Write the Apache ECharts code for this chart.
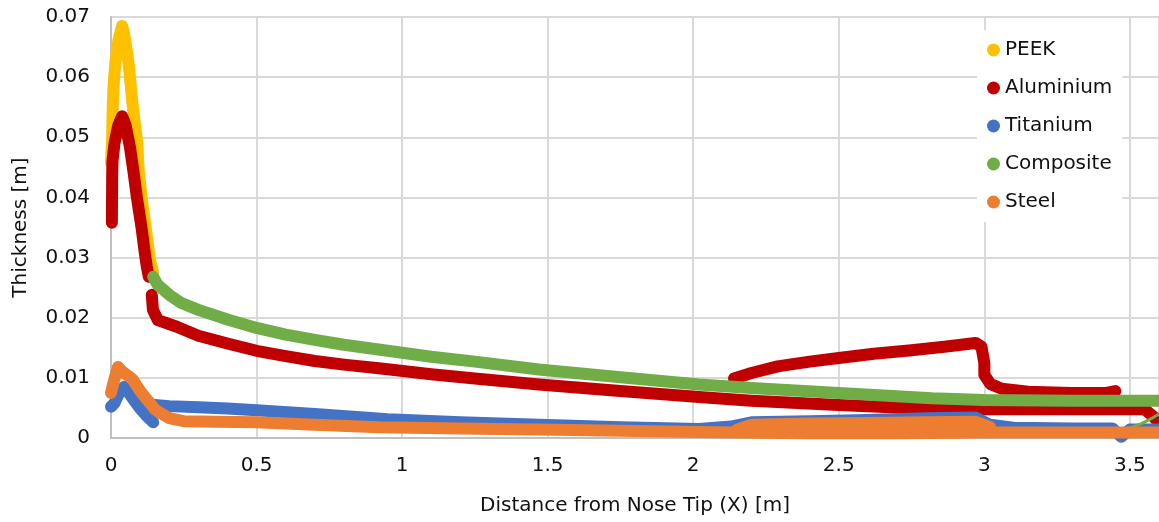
<!DOCTYPE html>
<html>
<head>
<meta charset="utf-8">
<script src="https://cdn.jsdelivr.net/npm/echarts@6/dist/echarts.min.js"></script>
<style>
  html, body { margin: 0; padding: 0; background: #fff; }
  #chart { width: 1159px; height: 522px; }
</style>
</head>
<body>
<div id="chart"></div>
<script>
// series names and colours
const names = ['PEEK', 'Aluminium', 'Titanium', 'Composite', 'Steel']
const colors = ['#FFC000', '#C00000', '#4472C4', '#70AD47', '#ED7D31']

// [x, thickness]
const peek = [[0,0.0457],[0.004,0.050],[0.006,0.055],[0.008,0.058],[0.015,0.0625],[0.025,0.066],[0.038,0.0685],[0.046,0.067],[0.06,0.0625],[0.075,0.055],[0.089,0.0496],[0.095,0.0446],[0.106,0.0396],[0.12,0.0346],[0.134,0.0296],[0.145,0.0275]]

const aluNose = [[0.003,0.0358],[0.004,0.0434],[0.005,0.046],[0.012,0.049],[0.025,0.052],[0.038,0.0535],[0.05,0.052],[0.065,0.0484],[0.078,0.044],[0.089,0.040],[0.106,0.0346],[0.116,0.0308],[0.123,0.0285],[0.13,0.0268]]
const aluBody = [[0.14,0.0238],[0.144,0.0213],[0.161,0.0196],[0.226,0.0185],[0.3,0.0170],[0.4,0.0157],[0.5,0.0145],[0.6,0.0136],[0.7,0.0128],[0.8,0.0122],[0.92,0.0116],[1.1,0.0106],[1.25,0.0099],[1.47,0.0089],[1.75,0.0078],[2.02,0.0068],[2.2,0.0062],[2.5,0.0055],[2.78,0.0049],[2.9,0.0048],[3.2,0.0048],[3.55,0.0048],[3.58,0.0036],[3.6,0.0025]]
const aluUpper = [[2.14,0.0099],[2.2,0.0108],[2.29,0.0119],[2.4,0.0127],[2.5,0.0133],[2.62,0.014],[2.75,0.0146],[2.87,0.0152],[2.97,0.0158],[2.99,0.0152],[3.0,0.0125],[3.0,0.0105],[3.02,0.009],[3.06,0.0082],[3.15,0.0077],[3.3,0.0075],[3.42,0.0075],[3.45,0.0078]]

const tiNose = [[0,0.0052],[0.005,0.005],[0.012,0.0058],[0.025,0.0072],[0.045,0.0085],[0.06,0.0076],[0.08,0.0062],[0.1,0.0049],[0.12,0.0038],[0.145,0.0026]]
const tiBody = [[0.15,0.0055],[0.2,0.0053],[0.3,0.0051],[0.4,0.0049],[0.5,0.0046],[0.7,0.004],[0.95,0.0031],[1.2,0.0026],[1.47,0.0022],[1.75,0.0018],[2.02,0.0015],[2.13,0.0019],[2.2,0.0026],[2.4,0.0028],[2.6,0.003],[2.8,0.0033],[2.97,0.0034],[3.02,0.0022],[3.1,0.0017],[3.3,0.0016],[3.44,0.0016],[3.47,0.0002],[3.5,0.0014],[3.6,0.0014]]

const comp = [[0.145,0.0268],[0.16,0.0255],[0.2,0.0238],[0.24,0.0225],[0.3,0.0213],[0.4,0.0197],[0.5,0.0183],[0.6,0.0172],[0.7,0.0163],[0.8,0.0155],[0.95,0.0145],[1.1,0.0135],[1.25,0.0127],[1.47,0.0114],[1.75,0.0101],[2.02,0.0089],[2.2,0.0083],[2.5,0.0075],[2.82,0.0066],[3.0,0.0063],[3.3,0.0062],[3.6,0.0062]]
const compTail = [[3.49,0.0015],[3.54,0.0024],[3.58,0.0034],[3.6,0.004]]

const steel = [[0,0.0075],[0.01,0.0095],[0.024,0.0118],[0.04,0.011],[0.06,0.0103],[0.075,0.0097],[0.1,0.0078],[0.12,0.0066],[0.134,0.0058],[0.15,0.0048],[0.168,0.0042],[0.2,0.0033],[0.25,0.0028],[0.36,0.0027],[0.5,0.0026],[0.7,0.0022],[0.92,0.0018],[1.2,0.0016],[1.47,0.0014],[1.75,0.0012],[2.02,0.001],[2.15,0.0009],[2.4,0.0008],[2.7,0.0008],[3.0,0.0009],[3.3,0.0009],[3.6,0.0009]]
const steelUpper = [[2.15,0.0014],[2.2,0.0022],[2.4,0.0024],[2.6,0.0025],[2.8,0.0026],[2.97,0.0027],[3.02,0.0018]]

const font = 'DejaVu Sans'

// 粗线模拟密集散点
const seg = (idx, data, width) => ({
  name: names[idx],
  type: 'line',
  data: data,
  showSymbol: false,
  symbol: 'circle',
  smooth: false,
  color: colors[idx],
  lineStyle: { width: width || 12, cap: 'round', join: 'round', color: colors[idx] },
  emphasis: { disabled: true }
})

const chart = echarts.init(document.getElementById('chart'))
chart.setOption({
  animation: false,
  textStyle: { fontFamily: font },
  grid: { left: 111, top: 17, width: 1048, height: 421 },
  legend: {
    data: names,
    orient: 'vertical',
    left: 977,
    top: 30,
    padding: [10, 10, 10, 10],
    itemWidth: 13,
    itemHeight: 13,
    itemGap: 18,
    icon: 'circle',
    backgroundColor: '#fff',
    textStyle: { fontFamily: font, fontSize: 20, color: '#111' }
  },
  xAxis: {
    type: 'value',
    min: 0,
    max: 3.6,
    interval: 0.5,
    name: 'Distance from Nose Tip (X) [m]',
    nameLocation: 'middle',
    nameGap: 58,
    nameTextStyle: { fontFamily: font, fontSize: 20, color: '#111' },
    axisLine: { show: true, lineStyle: { color: '#bfbfbf', width: 2 } },
    axisTick: { show: false },
    axisLabel: { fontSize: 20, color: '#111', margin: 18, showMaxLabel: false },
    splitLine: { show: true, lineStyle: { color: '#d9d9d9', width: 2 } }
  },
  yAxis: {
    type: 'value',
    min: 0,
    max: 0.07,
    interval: 0.01,
    name: 'Thickness [m]',
    nameLocation: 'middle',
    nameGap: 80,
    nameTextStyle: { fontFamily: font, fontSize: 20, color: '#111' },
    axisLine: { show: true, lineStyle: { color: '#bfbfbf', width: 2 } },
    axisTick: { show: false },
    axisLabel: { fontSize: 20, color: '#111', margin: 21 },
    splitLine: { show: true, lineStyle: { color: '#d9d9d9', width: 2 } }
  },
  series: [
    seg(0, peek),
    seg(1, aluNose),
    seg(1, aluBody),
    seg(1, aluUpper),
    seg(2, tiNose),
    seg(2, tiBody),
    seg(3, comp),
    seg(3, compTail, 3),
    seg(4, steel),
    seg(4, steelUpper)
  ]
})
</script>
</body>
</html>
